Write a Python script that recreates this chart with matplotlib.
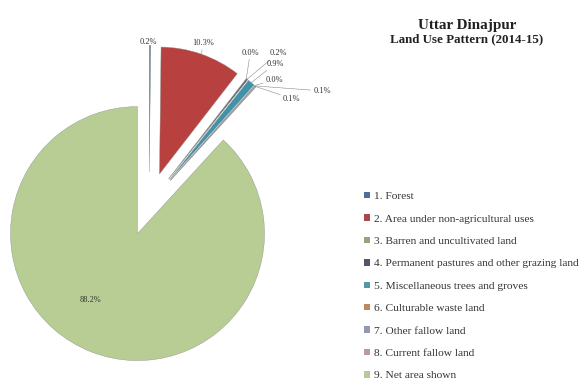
import numpy as np
import matplotlib
matplotlib.use("Agg")
import matplotlib.pyplot as plt
from matplotlib.patches import Patch

categories = [
    "1. Forest",
    "2. Area under non-agricultural uses",
    "3. Barren and uncultivated land",
    "4. Permanent pastures and other grazing land",
    "5. Miscellaneous trees and groves",
    "6. Culturable waste land",
    "7. Other fallow land",
    "8. Current fallow land",
    "9. Net area shown",
]
values = [0.2, 10.3, 0.0, 0.2, 0.9, 0.0, 0.1, 0.1, 88.2]
colors = ["#5b7fa8", "#b8403f", "#9aab7a", "#5d5a6e", "#3f92ab",
          "#c8935a", "#9aa3b8", "#c0a0a8", "#b7cd93"]
legend_colors = ["#4f6f98", "#a54a48", "#93a57a", "#55546a", "#5396ad",
                 "#b98a5c", "#939ab0", "#b89aa3", "#b7c99a"]

# label offsets (pixels: right, up) from each wedge's outer tip
label_offsets = [(-2, 3), (2, 11), (4, 26), (31, 26), (24, 19),
                 (20, 6), (67, -5), (36, -12), (-1, 52)]
leaders = [False, True, True, True, True, True, True, True, False]

W, H = 584, 388
R_PX = 127.0
CX, CY = 149.0, 204.0  # pie centre in pixels (from top-left)
EXPLODE = 0.25

plt.rcParams['font.family'] = ['Liberation Serif', 'DejaVu Serif']
fig = plt.figure(figsize=(W / 100, H / 100), dpi=100)
ax = fig.add_axes([0, 0, 1, 1])

wedges, _ = ax.pie(values, colors=colors, startangle=90, counterclock=False,
                   explode=[EXPLODE] * len(values), radius=1.0,
                   wedgeprops=dict(edgecolor="#8c9590", linewidth=0.3))
ax.set_xlim(-CX / R_PX, (W - CX) / R_PX)
ax.set_ylim(-(H - CY) / R_PX, CY / R_PX)
ax.set_aspect('equal')
ax.axis('off')

for w, v, off, lead in zip(wedges, values, label_offsets, leaders):
    th = np.deg2rad((w.theta1 + w.theta2) / 2)
    cx, cy = w.center
    tip = (cx + w.r * np.cos(th), cy + w.r * np.sin(th))
    kw = {}
    if lead:
        kw['arrowprops'] = dict(arrowstyle='-', lw=0.4, color='#8a8a8a',
                                shrinkA=0, shrinkB=0)
    ax.annotate(f"{v:.1f}%", xy=tip, xytext=off, textcoords='offset pixels',
                ha='center', va='center', fontsize=6, color='#333333', **kw)

fig.text(467 / W, 1 - 25 / H, "Uttar Dinajpur", ha='center', va='center',
         fontsize=10.9, fontweight='bold', color='#222222')
fig.text(467 / W, 1 - 39.5 / H, "Land Use Pattern (2014-15)", ha='center',
         va='center', fontsize=9.4, fontweight='bold', color='#222222')

handles = [Patch(facecolor=c, edgecolor='none') for c in legend_colors]
fig.legend(handles, categories, loc='upper left',
           bbox_to_anchor=(364 / W, 1 - 192 / H), frameon=False,
           fontsize=8.2, handlelength=0.5, handleheight=0.5, handletextpad=0.4,
           labelspacing=1.15, borderpad=0, borderaxespad=0,
           labelcolor='#333333')

fig.savefig("out.png", dpi=100)
